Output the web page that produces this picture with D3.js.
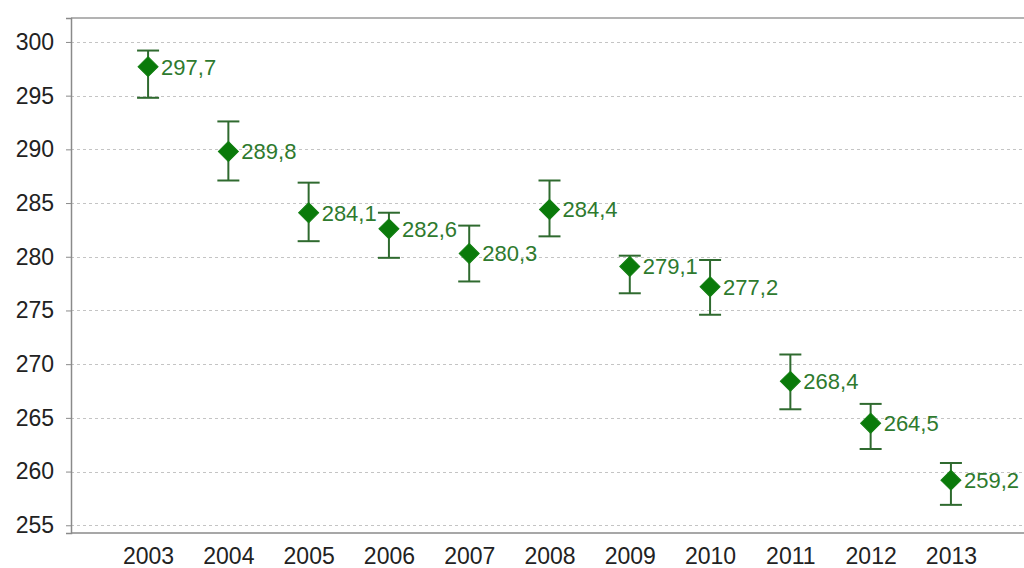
<!DOCTYPE html>
<html>
<head>
<meta charset="utf-8">
<script src="https://cdn.jsdelivr.net/npm/d3@7"></script>
<style>
  html, body { margin: 0; padding: 0; background: #fff; }
  svg { display: block; }
</style>
</head>
<body>
<svg id="chart" width="1024" height="568"></svg>
<script>
const years = ["2003","2004","2005","2006","2007","2008","2009","2010","2011","2012","2013"];
const values = [297.7, 289.8, 284.1, 282.6, 280.3, 284.4, 279.1, 277.2, 268.4, 264.5, 259.2];
const lower = [294.8, 287.1, 281.45, 279.9, 277.7, 281.9, 276.6, 274.6, 265.8, 262.1, 256.9];
const upper = [299.2, 292.6, 286.9, 284.1, 282.9, 287.1, 280.1, 279.7, 270.9, 266.3, 260.8];
const labels = ["297,7","289,8","284,1","282,6","280,3","284,4","279,1","277,2","268,4","264,5","259,2"];
const yTicks = [255, 260, 265, 270, 275, 280, 285, 290, 295, 300];

(function () {
const svg = d3.select("#chart");
const pLeft = 71, pRight = 1028, pTop = 18, pBottom = 533;
const font = "'Liberation Sans', Arial, sans-serif";

const x = d3.scalePoint().domain(years).range([pLeft, pRight]).padding(0.96);
const y = d3.scaleLinear().domain([254.28, 302.23]).range([pBottom, pTop]);

// gridlines
svg.append("g").selectAll("line").data(yTicks).join("line")
  .attr("x1", pLeft).attr("x2", 1024)
  .attr("y1", d => Math.round(y(d)) + 0.5).attr("y2", d => Math.round(y(d)) + 0.5)
  .attr("stroke", "#c4c4c4").attr("stroke-width", 1).attr("stroke-dasharray", "3,3");

// top border
svg.append("line").attr("x1", pLeft).attr("x2", 1024).attr("y1", pTop).attr("y2", pTop)
  .attr("stroke", "#9a9a9a").attr("stroke-width", 1.5);

// y axis
const yAxis = d3.axisLeft(y).tickValues(yTicks).tickSize(5).tickPadding(12).tickFormat(d3.format("d"));
const gy = svg.append("g").attr("transform", `translate(${pLeft},0)`).call(yAxis);
gy.select(".domain").attr("stroke", "#8a8a8a").attr("stroke-width", 1.5);
gy.selectAll(".tick line").attr("stroke", "#8a8a8a");
gy.selectAll(".tick text").attr("font-family", font).attr("font-size", 23).attr("fill", "#222");

// x axis
const xAxis = d3.axisBottom(x).tickSize(0).tickPadding(15);
const gx = svg.append("g").attr("transform", `translate(0,${pBottom})`).call(xAxis);
gx.select(".domain").attr("stroke", "#8a8a8a").attr("stroke-width", 1.5).attr("d", `M${pLeft},0H1024`);
gx.selectAll(".tick text").attr("font-family", font).attr("font-size", 23).attr("fill", "#222");

// error bars
const eb = svg.append("g").selectAll("g").data(years).join("g");
eb.append("line")
  .attr("x1", d => x(d)).attr("x2", d => x(d))
  .attr("y1", (d, i) => y(upper[i])).attr("y2", (d, i) => y(lower[i]))
  .attr("stroke", "#2f6a2f").attr("stroke-width", 2);
eb.append("line")
  .attr("x1", d => x(d) - 11).attr("x2", d => x(d) + 11)
  .attr("y1", (d, i) => y(upper[i])).attr("y2", (d, i) => y(upper[i]))
  .attr("stroke", "#2f6a2f").attr("stroke-width", 2);
eb.append("line")
  .attr("x1", d => x(d) - 11).attr("x2", d => x(d) + 11)
  .attr("y1", (d, i) => y(lower[i])).attr("y2", (d, i) => y(lower[i]))
  .attr("stroke", "#2f6a2f").attr("stroke-width", 2);

// diamonds
const diamond = d3.symbol().type(d3.symbolSquare).size(200);
svg.append("g").selectAll("path").data(years).join("path")
  .attr("d", diamond)
  .attr("transform", (d, i) => `translate(${x(d)},${y(values[i])}) rotate(45)`)
  .attr("fill", "#0a7a0a").attr("stroke", "#137f13").attr("stroke-width", 1);

// value labels
svg.append("g").selectAll("text").data(years).join("text")
  .attr("x", d => x(d) + 13)
  .attr("y", (d, i) => y(values[i]))
  .attr("dy", "0.36em")
  .attr("font-family", font).attr("font-size", 22)
  .attr("fill", "#2e7a2e")
  .text((d, i) => labels[i]);
})();
</script>
</body>
</html>
